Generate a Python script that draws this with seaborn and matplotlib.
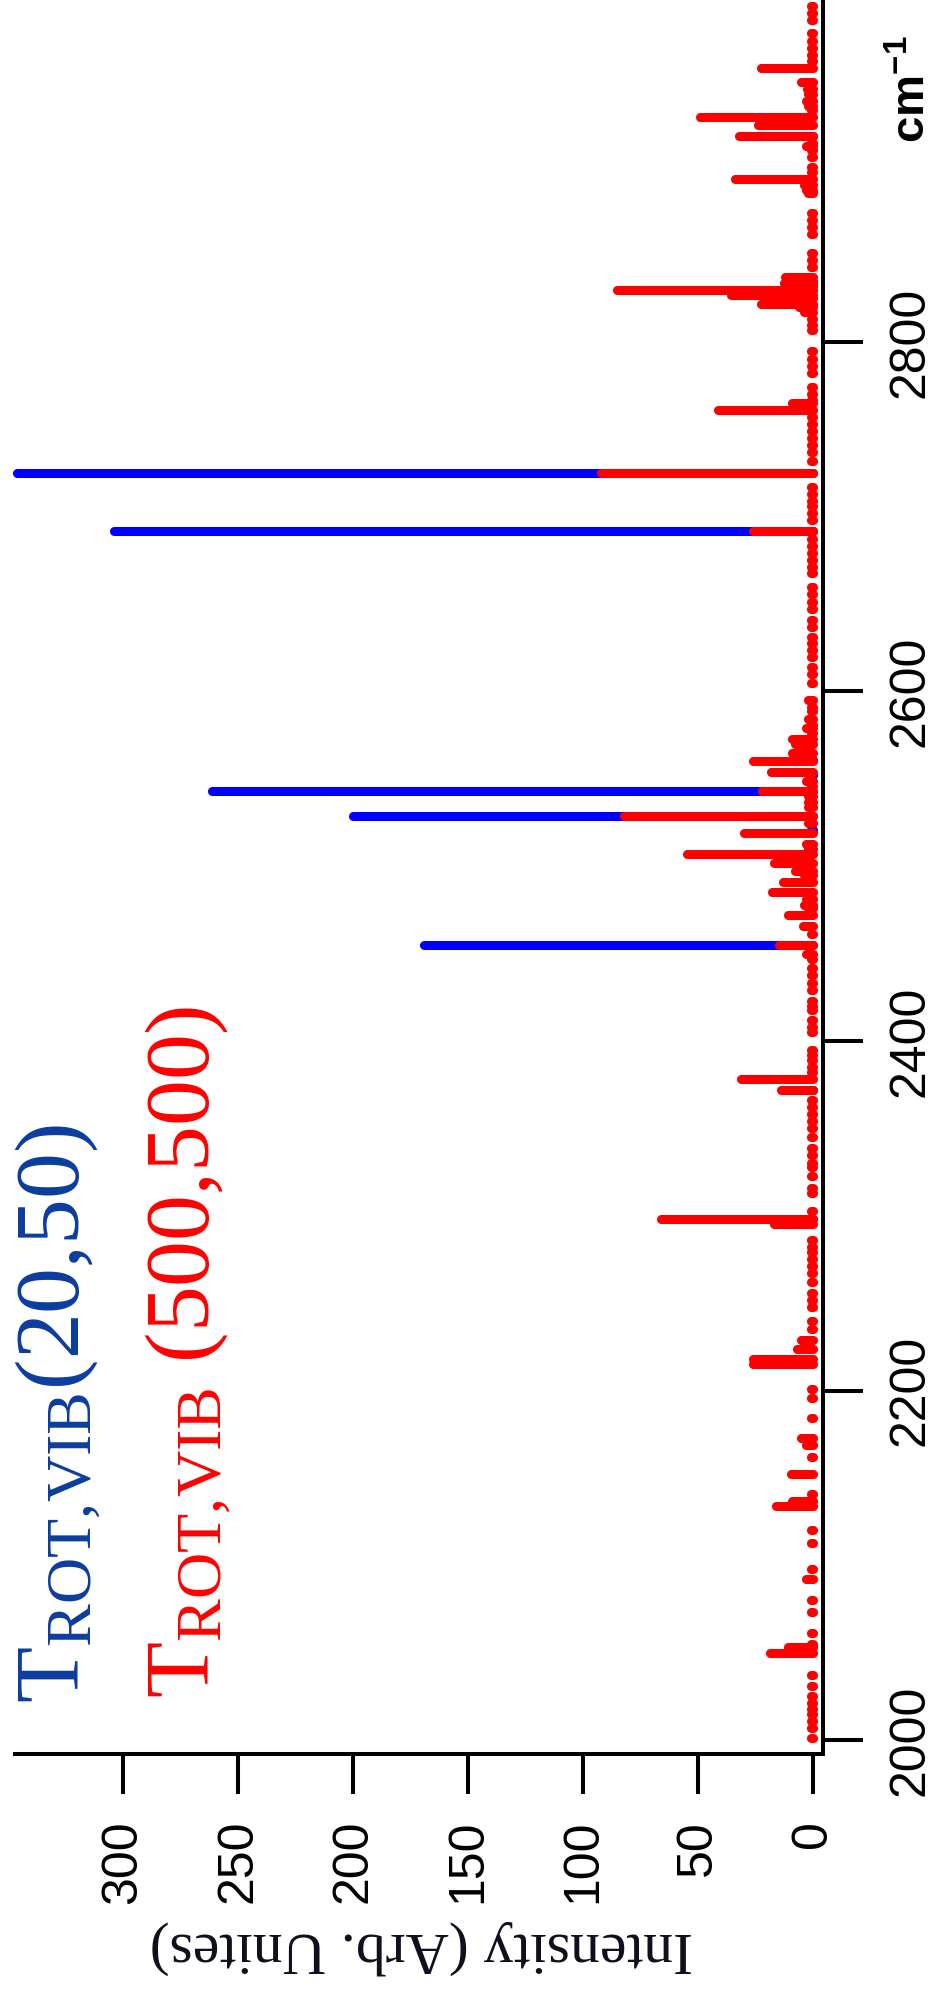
import matplotlib
matplotlib.use("Agg")
import matplotlib.pyplot as plt
import numpy as np
import pandas as pd
import seaborn as sns

# ---- T_ROT,VIB(20,50): stick spectrum (wavenumber cm-1, intensity) ----
blue_wn = [2725, 2692, 2543, 2529, 2455, 2918, 2830, 2561, 2552, 2521, 2298, 2372]
blue_int = [346, 304, 261.5, 200, 169, 1, 1, 1, 1, 1, 1, 1]

# ---- T_ROT,VIB(500,500): stronger transitions ----
red_peak_wn = [2957, 2949, 2945, 2929, 2924, 2918, 2912, 2893, 2890, 2887,
               2837, 2835, 2834, 2832, 2830, 2827, 2825, 2822, 2820, 2817,
               2765, 2761, 2725, 2692, 2579, 2573, 2570, 2565, 2560, 2554,
               2543, 2529, 2519, 2507, 2502, 2497, 2491, 2485, 2478, 2472,
               2466, 2455, 2450, 2378, 2372, 2298, 2295, 2229, 2224, 2218,
               2215, 2173, 2169, 2152, 2137, 2134, 2092, 2053, 2050]
red_peak_int = [22.4, 5, 2.5, 49, 24, 32, 3, 34, 4, 3,
                12, 10, 12.6, 9, 85.4, 35.6, 8, 22.6, 6, 4,
                9, 41.5, 92, 26, 3, 9, 8, 9, 26, 18.4,
                22, 82, 30, 55, 17, 8, 13, 18, 4, 11,
                4.4, 15, 3, 31.5, 14, 66, 17, 5, 7, 26,
                26, 5, 3, 9.5, 9, 16, 3, 11, 18.5]

# ---- T_ROT,VIB(500,500): weak transitions along the baseline ----
red_weak_wn = [2992, 2988, 2984, 2977, 2972, 2968, 2964, 2961, 2942, 2938,
               2935, 2933, 2914, 2910, 2906, 2900, 2897, 2885, 2874, 2870,
               2866, 2862, 2851, 2847, 2843, 2813, 2810, 2807, 2795, 2790,
               2786, 2782, 2774, 2770, 2767, 2757, 2753, 2749, 2745, 2741,
               2737, 2732, 2717, 2713, 2709, 2706, 2702, 2698, 2687, 2683,
               2679, 2675, 2671, 2668, 2660, 2656, 2651, 2647, 2641, 2637,
               2631, 2628, 2624, 2620, 2614, 2610, 2605, 2595, 2591, 2589,
               2584, 2581, 2576, 2549, 2546, 2540, 2537, 2534, 2525, 2513,
               2510, 2495, 2481, 2476, 2461, 2447, 2442, 2438, 2433, 2429,
               2423, 2420, 2418, 2412, 2408, 2405, 2395, 2392, 2389, 2385,
               2382, 2366, 2362, 2358, 2354, 2350, 2345, 2339, 2335, 2330,
               2328, 2323, 2316, 2313, 2303, 2286, 2282, 2279, 2275, 2271,
               2267, 2262, 2256, 2252, 2248, 2240, 2235, 2201, 2196, 2184,
               2162, 2141, 2120, 2113, 2098, 2080, 2073, 2061, 2055, 2037,
               2031, 2025, 2021, 2018, 2015, 2011, 2007, 2001]
red_weak_int = [1, 1, 1, 1, 1, 1, 1, 1, 2, 3,
                2, 1, 1, 1, 1, 1, 1, 2, 1, 1,
                1, 1, 1, 1, 1, 1, 1, 1, 1, 1,
                1, 1, 1, 1, 1, 1, 1, 1, 1, 1,
                1, 1, 1, 1, 1, 1, 1, 1, 1, 1,
                1, 1, 1, 1, 1, 1, 1, 1, 1, 1,
                1, 1, 1, 1, 1, 1, 1, 2, 1, 1,
                2, 1, 1, 3, 1, 2, 2, 2, 2, 3,
                2, 4, 3, 2, 1, 1, 1, 1, 1, 1,
                1, 1, 1, 1, 1, 1, 1, 1, 1, 1,
                1, 1, 1, 1, 1, 1, 1, 1, 1, 1,
                1, 1, 1, 1, 1, 1, 1, 1, 1, 1,
                1, 1, 1, 1, 1, 1, 1, 1, 1, 1,
                1, 1, 1, 1, 1, 1, 1, 1, 1, 1,
                1, 1, 1, 1, 1, 1, 1, 1]

intensity_ticks = [0, 50, 100, 150, 200, 250, 300]
wavenumber_ticks = [2000, 2200, 2400, 2600, 2800]

BLUE = "#0000ff"
RED = "#ff0000"
BLUE_TEXT = "#0b3c9f"

sns.set_theme(style="white")
plt.rcParams["font.family"] = ["Liberation Sans", "DejaVu Sans"]
plt.rcParams["mathtext.fontset"] = "custom"
plt.rcParams["mathtext.rm"] = "Liberation Serif"
plt.rcParams["mathtext.it"] = "Liberation Serif:italic"
plt.rcParams["mathtext.bf"] = "Liberation Sans:bold"

W, H, DPI = 939, 1994, 100
fig = plt.figure(figsize=(W / DPI, H / DPI), dpi=DPI)

# axes box in pixels (left, right, bottom-from-top, top-from-top)
L, R, B, T = 15, 823, 1754, 0
ax = fig.add_axes([L / W, 1 - B / H, (R - L) / W, (B - T) / H])

blue = pd.DataFrame({"wn": blue_wn, "inten": blue_int})
red = pd.DataFrame({"wn": red_peak_wn + red_weak_wn,
                    "inten": red_peak_int + red_weak_int})

STEM_LW = 6.5  # points
DOT = STEM_LW ** 2


def sticks(df, color, z):
    ax.hlines(df["wn"], 0, df["inten"], colors=color, lw=STEM_LW,
              zorder=z, clip_on=False)
    ends = pd.concat([df.assign(inten=0.0), df], ignore_index=True)
    sns.scatterplot(data=ends, x="inten", y="wn", color=color, s=DOT,
                    linewidth=0, marker="o", ax=ax, zorder=z + 0.1,
                    clip_on=False, legend=False)


sticks(blue, BLUE, 2)
sticks(red, RED, 3)

ax.set_xlim(347, -4.35)
ax.set_ylim(1992, 2995.7)

for side in ("top", "left"):
    ax.spines[side].set_visible(False)
for side in ("bottom", "right"):
    ax.spines[side].set_color("black")
    ax.spines[side].set_linewidth(2.9)

ax.yaxis.tick_right()
ax.set_xticks(intensity_ticks)
ax.set_xticklabels([str(v) for v in intensity_ticks], rotation=90,
                   ha="center", va="top")
ax.set_yticks(wavenumber_ticks)
ax.set_yticklabels([str(v) for v in wavenumber_ticks], rotation=90,
                   ha="left", va="center")
ax.tick_params(axis="x", direction="out", length=28.8, width=2.9,
               pad=18.7, labelsize=36, colors="black", bottom=True)
ax.tick_params(axis="y", direction="out", length=28.8, width=2.9,
               pad=18, labelsize=36, colors="black", right=True, left=False)
ax.set_xlabel("")
ax.set_ylabel("")
ax.grid(False)


def px(x, y):
    return x / W, 1 - y / H


fig.text(*px(421, 1933), "Intensity (Arb. Unites)", rotation=180,
         rotation_mode="anchor", ha="center", va="baseline",
         fontsize=43, family=["Liberation Serif", "DejaVu Serif"],
         color="#0e0e1c")

fig.text(*px(78, 1703), r"$\mathrm{T}_{\mathrm{ROT{,}VIB}}\mathrm{(20{,}50)}$",
         rotation=90, rotation_mode="anchor", ha="left", va="baseline",
         fontsize=66, color=BLUE_TEXT)
fig.text(*px(208, 1698), r"$\mathrm{T}_{\mathrm{ROT{,}VIB}}\ \mathrm{(500{,}500)}$",
         rotation=90, rotation_mode="anchor", ha="left", va="baseline",
         fontsize=66, color=RED)

fig.text(*px(925, 143), r"$\mathbf{cm^{-1}}$", rotation=90,
         rotation_mode="anchor", ha="left", va="baseline", fontsize=34,
         color="black")

fig.savefig("out.png", dpi=DPI, facecolor="white")
